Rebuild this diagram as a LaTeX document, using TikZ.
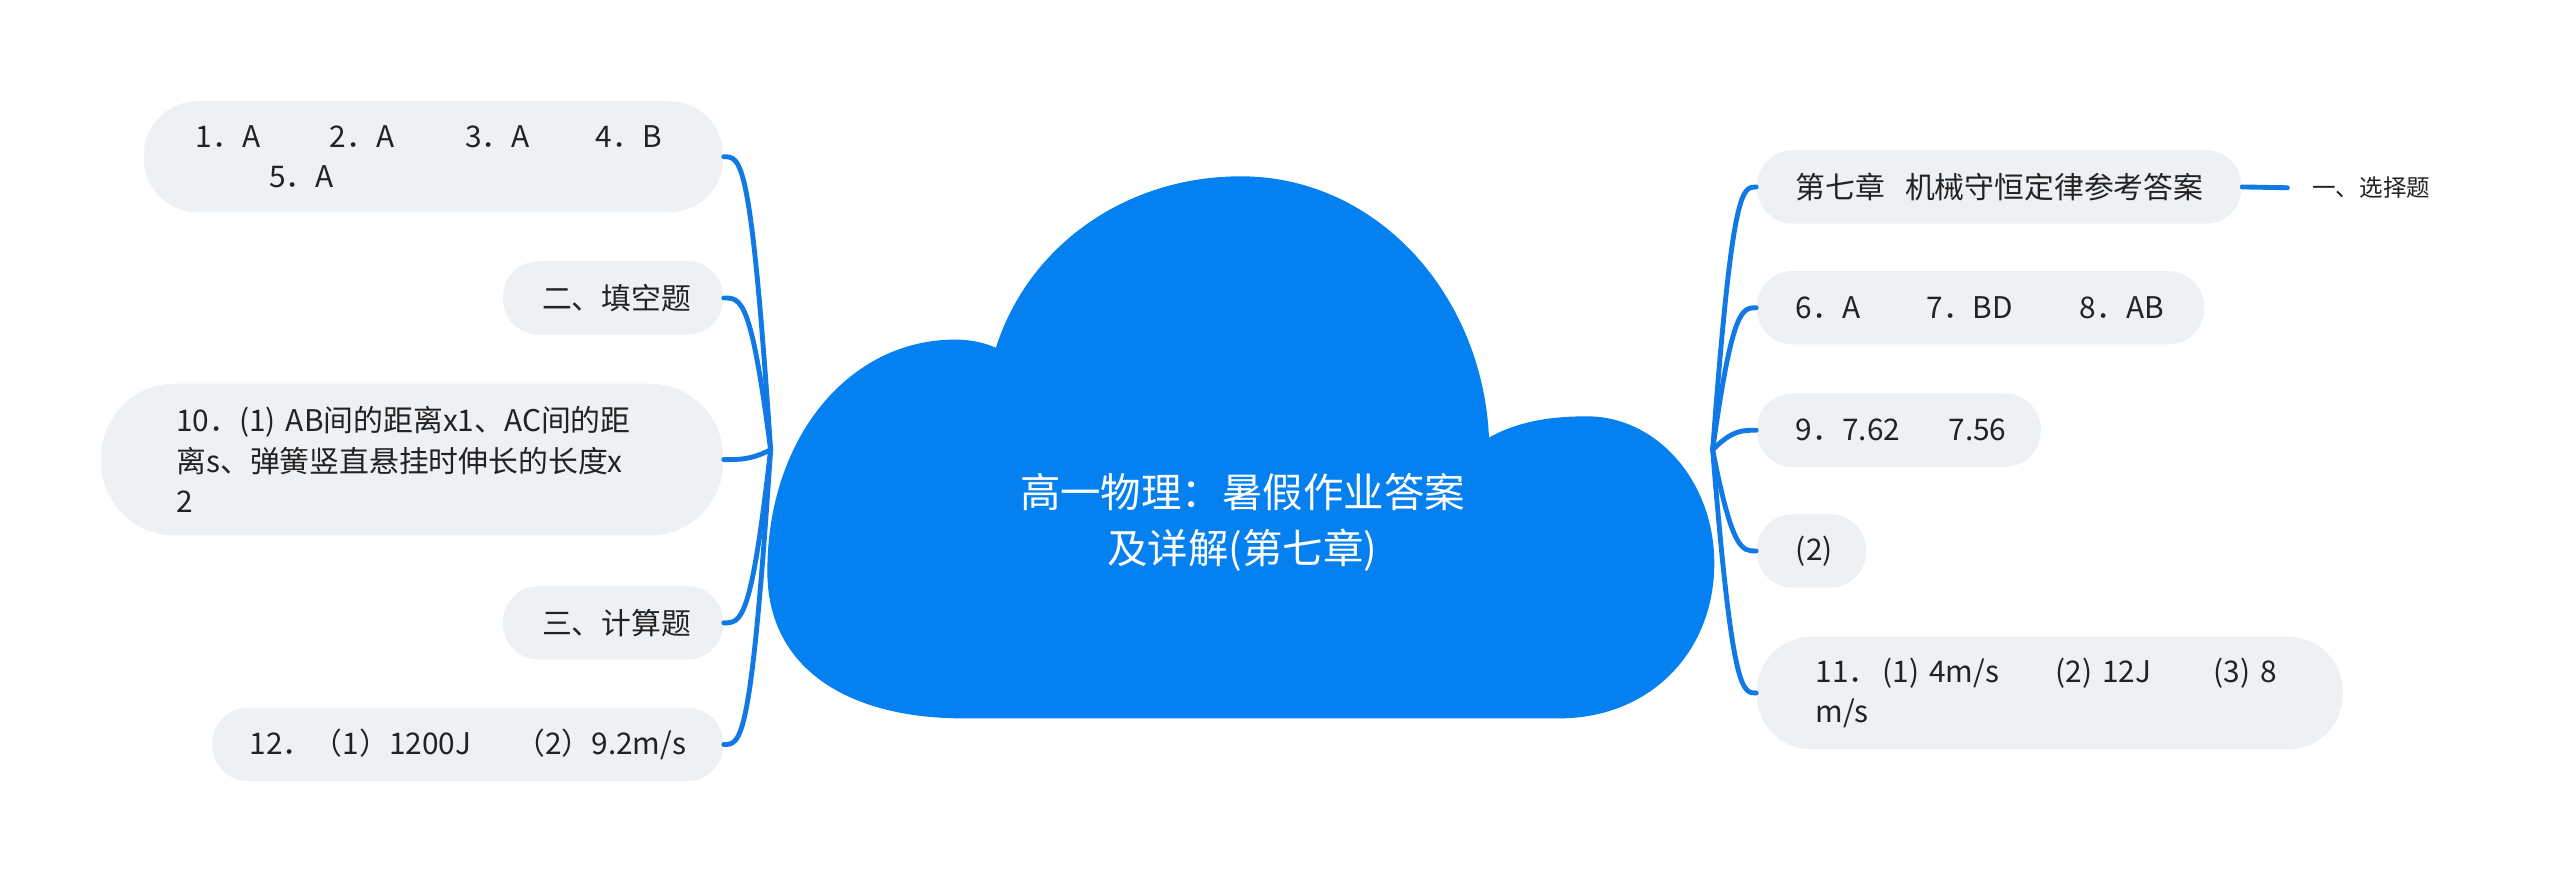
\documentclass[tikz,border=0pt]{standalone}
\usepackage{fontspec}
\setmainfont{Noto Sans CJK SC}
\definecolor{cloudblue}{RGB}{5,128,240}
\definecolor{linkblue}{RGB}{16,121,230}
\definecolor{boxgray}{RGB}{238,241,244}
\definecolor{ink}{RGB}{34,34,34}
\begin{document}
\begin{tikzpicture}[x=0.02cm,y=-0.02cm,
  box/.style={fill=boxgray, draw=none, inner ysep=0pt, align=left, text=ink,
    font=\fontsize{10.4}{14.2}\selectfont},
  smallbox/.style={box, minimum height=0.9cm, rounded corners=0.44cm, inner xsep=0.48cm},
  conn/.style={draw=linkblue, line width=1.7pt, line cap=round}]
\useasboundingbox (0,0) rectangle (1568,540);
\fill[white] (0,0) rectangle (1568,540);
% central cloud
\fill[cloudblue] (470,350) .. controls (470,268) and (520,208) .. (585,208)
  .. controls (595,208) and (603,210) .. (610,213)
  .. controls (630,150) and (690,108) .. (760,108)
  .. controls (843,108) and (908,180) .. (912,268)
  .. controls (930,258) and (950,255) .. (972,255)
  .. controls (1015,255) and (1050,295) .. (1050,345)
  .. controls (1050,400) and (1010,440) .. (955,440)
  -- (590,440)
  .. controls (520,440) and (470,410) .. (470,350) -- cycle;
\node[text=white, align=center, font=\fontsize{14.1}{19.3}\selectfont] (title) at (761,320)
  {高一物理：暑假作业答案\\及详解(第七章)};
\coordinate (hl) at (472,275.5);
\coordinate (hr) at (1049,275.5);
% left boxes
\node[box, minimum width=7.1cm, minimum height=1.36cm, rounded corners=0.66cm,
  inner xsep=0.64cm, text width=5.82cm] (b1) at (265.5,96)
  {\mbox{\makebox[1.64cm][l]{1．A}\makebox[1.66cm][l]{2．A}\makebox[1.6cm][l]{3．A}4．B}\\\mbox{\hspace*{0.9cm}5．A}};
\node[smallbox, minimum width=2.7cm, text width=1.74cm] (b2) at (375.5,182.5) {二、填空题};
\node[box, minimum width=7.62cm, minimum height=1.86cm, rounded corners=0.9cm,
  inner xsep=0.92cm, text width=5.78cm] (b3) at (252.5,281.5)
  {\mbox{10．(1) AB间的距离x1、AC间的距}\\\mbox{离s、弹簧竖直悬挂时伸长的长度x}\\2};
\node[smallbox, minimum width=2.7cm, text width=1.74cm] (b4) at (375.5,381.5) {三、计算题};
\node[smallbox, minimum width=6.26cm, inner xsep=0.46cm, text width=5.34cm] (b5) at (286.5,456)
  {\mbox{12．（1）1200J\hspace{0.54cm}（2）9.2m/s}};
% right boxes
\node[smallbox, minimum width=5.94cm, text width=4.98cm] (r1) at (1224.5,114.5)
  {\mbox{第七章\hspace{0.24cm}机械守恒定律参考答案}};
\node[smallbox, minimum width=5.48cm, text width=4.52cm] (r2) at (1213,188.5)
  {\mbox{\makebox[1.6cm][l]{6．A}\makebox[1.88cm][l]{7．BD}8．AB}};
\node[smallbox, minimum width=3.48cm, text width=2.52cm] (r3) at (1163,263.5)
  {\mbox{\makebox[1.87cm][l]{9．7.62}7.56}};
\node[smallbox, minimum width=1.34cm, text width=0.38cm] (r4) at (1109.5,337.5) {(2)};
\node[box, minimum width=7.18cm, minimum height=1.38cm, rounded corners=0.67cm,
  inner xsep=0.72cm, text width=5.74cm] (r5) at (1255.5,424.5)
  {\mbox{\makebox[0.82cm][l]{11．}\makebox[2.12cm][l]{(1) 4m/s}\makebox[1.94cm][l]{(2) 12J}(3) 8}\\m/s};
\node[anchor=west, inner xsep=0.3cm, inner ysep=2pt, text=ink,
  font=\fontsize{8.2}{10}\selectfont] (s1) at (1401,115) {一、选择题};
% connectors
\draw[conn] (hl) .. controls (460,96) and (454,96) .. (b1.east);
\draw[conn] (hl) .. controls (460,182.5) and (454,182.5) .. (b2.east);
\draw[conn] (hl) .. controls (460,281.5) and (454,281.5) .. (b3.east);
\draw[conn] (hl) .. controls (460,381.5) and (454,381.5) .. (b4.east);
\draw[conn] (hl) .. controls (460,456) and (454,456) .. (b5.east);
\draw[conn] (hr) .. controls (1061,114.5) and (1067,114.5) .. (r1.west);
\draw[conn] (hr) .. controls (1061,188.5) and (1067,188.5) .. (r2.west);
\draw[conn] (hr) .. controls (1061,263.5) and (1067,263.5) .. (r3.west);
\draw[conn] (hr) .. controls (1061,337.5) and (1067,337.5) .. (r4.west);
\draw[conn] (hr) .. controls (1061,424.5) and (1067,424.5) .. (r5.west);
\draw[conn] (r1.east) -- (s1.west);
\end{tikzpicture}
\end{document}
